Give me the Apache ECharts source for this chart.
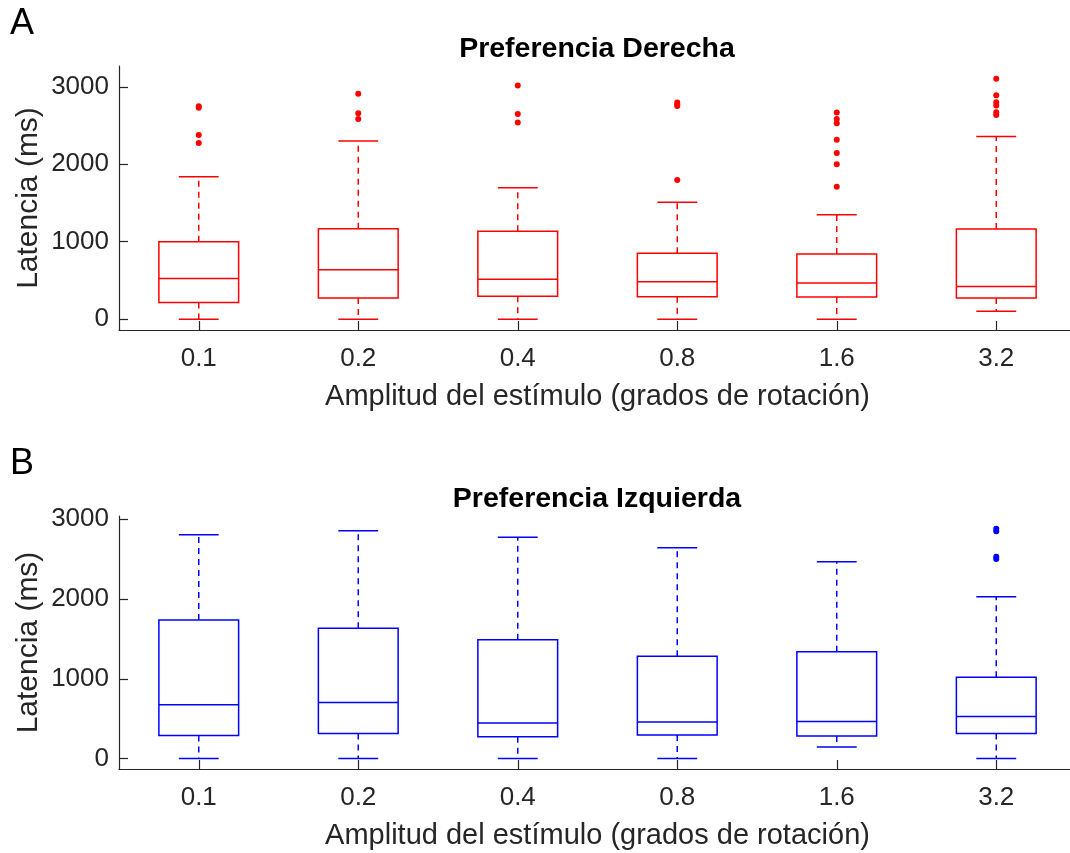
<!DOCTYPE html>
<html>
<head>
<meta charset="utf-8">
<script src="https://cdn.jsdelivr.net/npm/echarts@6/dist/echarts.min.js"></script>
<style>
html,body{margin:0;padding:0;background:#fff;}
#chart{width:1070px;height:853px;}
</style>
</head>
<body>
<div id="chart"></div>
<script>
// ---------- data ----------
const categories = ['0.1', '0.2', '0.4', '0.8', '1.6', '3.2'];
const yTicks = [0, 1000, 2000, 3000];

// [lower whisker, Q1, median, Q3, upper whisker]
const rightBoxes = [
  [0, 216, 526, 1000, 1840],
  [0, 272, 638, 1168, 2302],
  [0, 297, 517, 1134, 1698],
  [0, 289, 483, 850, 1509],
  [0, 285, 466, 841, 1349],
  [103, 272, 423, 1164, 2358]
];
const rightOutliers = [
  [2750, 2730, 2380, 2276],
  [2910, 2660, 2586],
  [3017, 2651, 2539],
  [2797, 2770, 2754, 1797],
  [2668, 2586, 2531, 2319, 2147, 2000, 1711],
  [3104, 2893, 2802, 2759, 2673, 2638]
];

const leftBoxes = [
  [0, 291, 675, 1738, 2804],
  [0, 316, 704, 1634, 2854],
  [0, 275, 446, 1488, 2775],
  [0, 296, 459, 1284, 2641],
  [146, 284, 466, 1338, 2466],
  [0, 316, 529, 1021, 2029]
];
const leftOutliers = [
  [], [], [], [], [],
  [2880, 2850, 2530, 2500]
];

// ---------- helpers ----------
const FONT = 'Liberation Sans, Arial, Helvetica, sans-serif';
const TXT = '#262626';

function boxData(boxes) {
  return boxes.map((b, i) => [i].concat(b));
}
function outlierData(outs) {
  const res = [];
  outs.forEach((list, i) => list.forEach(v => res.push([i, v])));
  return res;
}
function makeRender(color) {
  return function (params, api) {
    const i = api.value(0);
    const pLow = api.coord([i, api.value(1)]);
    const pQ1 = api.coord([i, api.value(2)]);
    const pMed = api.coord([i, api.value(3)]);
    const pQ3 = api.coord([i, api.value(4)]);
    const pHigh = api.coord([i, api.value(5)]);
    const band = api.size([1, 0])[0];
    const bw = band * 0.5;
    const cw = bw * 0.5;
    const x = pMed[0];
    const solid = { stroke: color, lineWidth: 1.5, fill: null };
    const dashed = { stroke: color, lineWidth: 1.5, lineDash: [6, 5], fill: null };
    return {
      type: 'group',
      children: [
        { type: 'line', shape: { x1: x, y1: pQ3[1], x2: x, y2: pHigh[1] }, style: dashed },
        { type: 'line', shape: { x1: x, y1: pQ1[1], x2: x, y2: pLow[1] }, style: dashed },
        { type: 'line', shape: { x1: x - cw / 2, y1: pHigh[1], x2: x + cw / 2, y2: pHigh[1] }, style: solid },
        { type: 'line', shape: { x1: x - cw / 2, y1: pLow[1], x2: x + cw / 2, y2: pLow[1] }, style: solid },
        { type: 'rect', shape: { x: x - bw / 2, y: pQ3[1], width: bw, height: pQ1[1] - pQ3[1] }, style: solid },
        { type: 'line', shape: { x1: x - bw / 2, y1: pMed[1], x2: x + bw / 2, y2: pMed[1] }, style: solid }
      ]
    };
  };
}

const axisLineStyle = { color: TXT, width: 1.2 };

function xAxisFor(gridIndex) {
  return {
    type: 'category',
    gridIndex: gridIndex,
    data: categories,
    boundaryGap: true,
    name: 'Amplitud del estímulo (grados de rotación)',
    nameLocation: 'middle',
    nameGap: 52,
    nameMoveOverlap: false,
    nameTextStyle: { fontFamily: FONT, fontSize: 29, color: TXT },
    axisLine: { show: true, onZero: false, lineStyle: axisLineStyle },
    axisTick: { show: true, inside: true, alignWithLabel: true, length: 9, lineStyle: axisLineStyle },
    axisLabel: { fontFamily: FONT, fontSize: 26, color: TXT, margin: 16 },
    splitLine: { show: false }
  };
}
function yAxisFor(gridIndex, min, max) {
  return {
    type: 'value',
    gridIndex: gridIndex,
    min: min,
    max: max,
    name: 'Latencia (ms)',
    nameLocation: 'middle',
    nameRotate: 90,
    nameGap: 75,
    nameMoveOverlap: false,
    nameTextStyle: { fontFamily: FONT, fontSize: 30, color: TXT },
    axisLine: { show: true, lineStyle: axisLineStyle },
    axisTick: { show: true, inside: true, length: 9, lineStyle: axisLineStyle, customValues: yTicks },
    axisLabel: { fontFamily: FONT, fontSize: 26, color: TXT, margin: 10, customValues: yTicks, formatter: v => String(v) },
    splitLine: { show: false }
  };
}

const chart = echarts.init(document.getElementById('chart'), null, { renderer: 'canvas' });
chart.setOption({
  backgroundColor: '#ffffff',
  animation: false,
  title: [
    { text: 'A', left: 10, top: 6, padding: 0, textStyle: { fontFamily: FONT, fontSize: 36, fontWeight: 'normal', color: '#000' } },
    { text: 'B', left: 10, top: 446, padding: 0, textStyle: { fontFamily: FONT, fontSize: 36, fontWeight: 'normal', color: '#000' } },
    { text: 'Preferencia Derecha', left: 597, textAlign: 'center', top: 35, padding: 0, textStyle: { fontFamily: FONT, fontSize: 28.5, fontWeight: 'bold', color: '#000' } },
    { text: 'Preferencia Izquierda', left: 597, textAlign: 'center', top: 485, padding: 0, textStyle: { fontFamily: FONT, fontSize: 28.5, fontWeight: 'bold', color: '#000' } }
  ],
  grid: [
    { left: 119, width: 957, top: 66, height: 264, outerBoundsMode: 'none', containLabel: false },
    { left: 119, width: 957, top: 516, height: 253, outerBoundsMode: 'none', containLabel: false }
  ],
  xAxis: [xAxisFor(0), xAxisFor(1)],
  yAxis: [yAxisFor(0, -140, 3270), yAxisFor(1, -130, 3040)],
  series: [
    {
      type: 'custom', xAxisIndex: 0, yAxisIndex: 0,
      renderItem: makeRender('#ff0000'),
      encode: { x: 0, y: [1, 2, 3, 4, 5] },
      data: boxData(rightBoxes)
    },
    {
      type: 'scatter', xAxisIndex: 0, yAxisIndex: 0,
      symbol: 'circle', symbolSize: 6,
      itemStyle: { color: '#ff0000', opacity: 1 },
      data: outlierData(rightOutliers)
    },
    {
      type: 'custom', xAxisIndex: 1, yAxisIndex: 1,
      renderItem: makeRender('#0000ff'),
      encode: { x: 0, y: [1, 2, 3, 4, 5] },
      data: boxData(leftBoxes)
    },
    {
      type: 'scatter', xAxisIndex: 1, yAxisIndex: 1,
      symbol: 'circle', symbolSize: 6,
      itemStyle: { color: '#0000ff', opacity: 1 },
      data: outlierData(leftOutliers)
    }
  ]
});
</script>
</body>
</html>
